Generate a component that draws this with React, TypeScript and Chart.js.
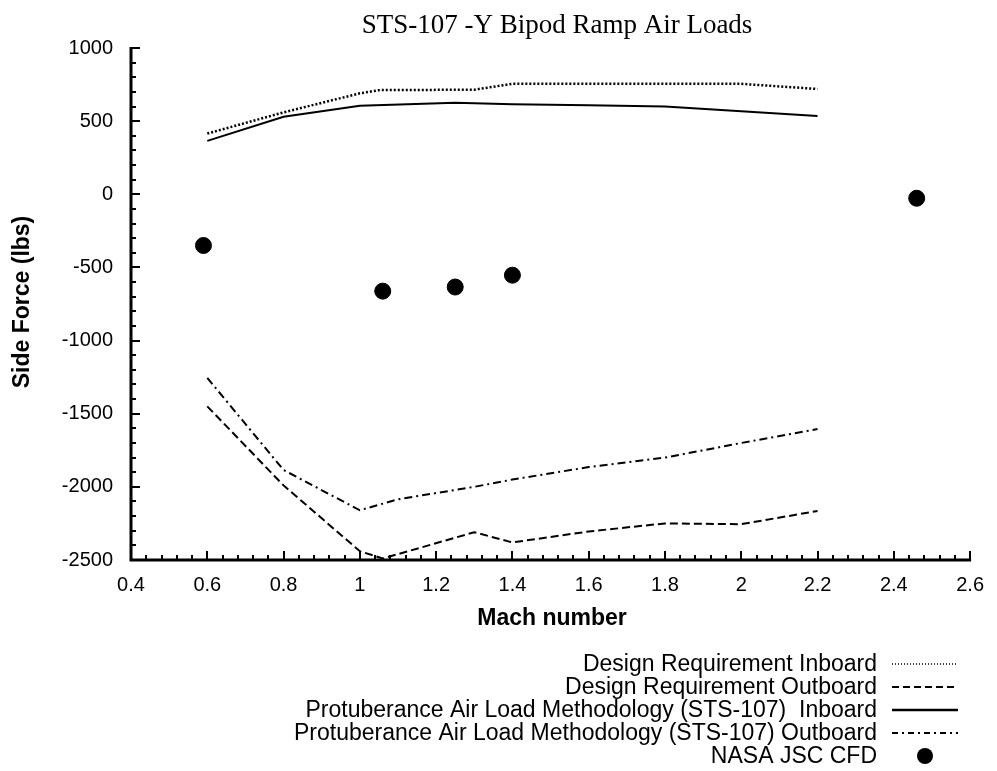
import React, { useEffect, useRef } from "react";
import { Chart, registerables } from "chart.js";
Chart.register(...registerables);

const TITLE = "STS-107 -Y Bipod Ramp Air Loads";
const X_TITLE = "Mach number";
const Y_TITLE = "Side Force (lbs)";

const X_MIN = 0.4;
const X_MAX = 2.6;
const X_STEP = 0.2;
const Y_MIN = -2500;
const Y_MAX = 1000;
const Y_STEP = 500;

const designInboardMach = [0.6, 0.8, 1.0, 1.05, 1.3, 1.4, 1.6, 1.8, 2.0, 2.2];
const designInboardForce = [415, 560, 690, 712, 715, 755, 755, 755, 755, 720];

const designOutboardMach = [0.6, 0.8, 1.0, 1.06, 1.3, 1.4, 1.6, 1.8, 2.0, 2.2];
const designOutboardForce = [-1450, -1990, -2440, -2490, -2310, -2380, -2305, -2250, -2255, -2165];

const protInboardMach = [0.6, 0.8, 1.0, 1.25, 1.4, 1.6, 1.8, 2.0, 2.2];
const protInboardForce = [365, 530, 605, 625, 615, 608, 600, 568, 535];

const protOutboardMach = [0.6, 0.8, 1.0, 1.1, 1.3, 1.4, 1.6, 1.8, 2.0, 2.2];
const protOutboardForce = [-1255, -1885, -2160, -2085, -2000, -1950, -1865, -1800, -1700, -1605];

const cfdMach = [0.59, 1.06, 1.25, 1.4, 2.46];
const cfdForce = [-350, -662, -634, -553, -27];

const LEGEND_LABELS = [
  "Design Requirement Inboard",
  "Design Requirement Outboard",
  "Protuberance Air Load Methodology (STS-107)  Inboard",
  "Protuberance Air Load Methodology (STS-107) Outboard",
  "NASA JSC CFD",
];

const pts = (xs: number[], ys: number[]) => xs.map((x, i) => ({ x, y: ys[i] }));

const SANS = "'Liberation Sans', Arial, sans-serif";
const SERIF = "'Liberation Serif', 'Times New Roman', serif";

const decorPlugin = {
  id: "decor",
  afterDraw(chart: any) {
    const { ctx, chartArea, scales } = chart;
    const xs = scales.x;
    const ys = scales.y;
    const left = chartArea.left;
    const bottom = chartArea.bottom;
    ctx.save();
    ctx.strokeStyle = "#000";
    ctx.fillStyle = "#000";
    ctx.setLineDash([]);
    // axis lines
    ctx.lineWidth = 3;
    ctx.beginPath();
    ctx.moveTo(left, ys.getPixelForValue(Y_MAX) - 1);
    ctx.lineTo(left, bottom);
    ctx.lineTo(xs.getPixelForValue(X_MAX) + 1, bottom);
    ctx.stroke();
    // ticks
    ctx.lineWidth = 2;
    ctx.beginPath();
    for (let i = 0; i <= Math.round((X_MAX - X_MIN) / 0.04); i++) {
      const v = X_MIN + i * 0.04;
      const px = Math.round(xs.getPixelForValue(v));
      const major = i % 5 === 0;
      ctx.moveTo(px, bottom);
      ctx.lineTo(px, bottom - (major ? 9 : 5));
    }
    for (let i = 0; i <= Math.round((Y_MAX - Y_MIN) / 100); i++) {
      const v = Y_MIN + i * 100;
      const py = Math.round(ys.getPixelForValue(v));
      const major = i % 5 === 0;
      ctx.moveTo(left, py);
      ctx.lineTo(left + (major ? 9 : 5), py);
    }
    ctx.stroke();

    // title
    ctx.font = `27px ${SERIF}`;
    ctx.textAlign = "center";
    ctx.textBaseline = "alphabetic";
    ctx.fillText(TITLE, 557, 33);

    // axis titles
    ctx.font = `bold 23px ${SANS}`;
    ctx.textBaseline = "middle";
    ctx.fillText(X_TITLE, 552, 619);
    ctx.save();
    ctx.translate(23, 302);
    ctx.rotate(-Math.PI / 2);
    ctx.fillText(Y_TITLE, 0, 0);
    ctx.restore();

    // legend
    ctx.font = `23px ${SANS}`;
    ctx.textAlign = "right";
    const rows = [664, 687, 710, 733, 756];
    const sx0 = 892;
    const sx1 = 958;
    chart.data.datasets.forEach((ds: any, i: number) => {
      const y = rows[i];
      ctx.fillStyle = "#000";
      ctx.fillText(ds.label, 877, y + 1);
      if (ds.showLine === false) {
        ctx.beginPath();
        ctx.arc(925, y, 8, 0, Math.PI * 2);
        ctx.fill();
      } else {
        ctx.beginPath();
        ctx.lineWidth = ds.legendWidth;
        ctx.setLineDash(ds.legendDash);
        ctx.moveTo(sx0, y);
        ctx.lineTo(sx1, y);
        ctx.stroke();
        ctx.setLineDash([]);
      }
    });
    ctx.restore();
  },
};

export default function App() {
  const ref = useRef<HTMLCanvasElement | null>(null);
  useEffect(() => {
    if (!ref.current) return;
    const lineBase = {
      borderColor: "#000",
      backgroundColor: "#000",
      borderWidth: 2,
      pointRadius: 0,
      fill: false,
      tension: 0,
      borderCapStyle: "butt",
    };
    const chart = new Chart(ref.current, {
      type: "scatter",
      data: {
        datasets: [
          {
            ...lineBase,
            label: LEGEND_LABELS[0],
            data: pts(designInboardMach, designInboardForce),
            showLine: true,
            borderDash: [2, 2],
            borderWidth: 2.5,
            legendDash: [1, 2],
            legendWidth: 1.5,
          } as any,
          {
            ...lineBase,
            label: LEGEND_LABELS[1],
            data: pts(designOutboardMach, designOutboardForce),
            showLine: true,
            borderDash: [8, 4],
            legendDash: [7, 4],
            legendWidth: 2,
          } as any,
          {
            ...lineBase,
            label: LEGEND_LABELS[2],
            data: pts(protInboardMach, protInboardForce),
            showLine: true,
            borderDash: [],
            legendDash: [],
            legendWidth: 2.5,
          } as any,
          {
            ...lineBase,
            label: LEGEND_LABELS[3],
            data: pts(protOutboardMach, protOutboardForce),
            showLine: true,
            borderDash: [8, 4, 2, 4],
            legendDash: [6, 4, 2, 4],
            legendWidth: 2,
          } as any,
          {
            label: LEGEND_LABELS[4],
            data: pts(cfdMach, cfdForce),
            showLine: false,
            pointRadius: 8,
            pointHoverRadius: 8,
            pointBackgroundColor: "#000",
            pointBorderColor: "#000",
            borderColor: "#000",
            backgroundColor: "#000",
          } as any,
        ],
      },
      options: {
        animation: false,
        responsive: false,
        maintainAspectRatio: false,
        layout: { padding: { top: 48, right: 22, left: 0, bottom: 0 } },
        plugins: {
          legend: { display: false },
          title: { display: false },
          tooltip: { enabled: false },
        },
        scales: {
          x: {
            type: "linear",
            min: X_MIN,
            max: X_MAX,
            grid: { display: false, drawTicks: false },
            border: { display: false },
            ticks: {
              stepSize: X_STEP,
              padding: 13,
              color: "#000",
              font: { family: SANS, size: 20 },
              maxRotation: 0,
              autoSkip: false,
              callback: (v: any) => String(Math.round(Number(v) * 10) / 10),
            },
            afterFit: (s: any) => {
              s.height = 771 - 560;
            },
          },
          y: {
            type: "linear",
            min: Y_MIN,
            max: Y_MAX,
            grid: { display: false, drawTicks: false },
            border: { display: false },
            ticks: {
              stepSize: Y_STEP,
              padding: 18,
              color: "#000",
              font: { family: SANS, size: 20 },
              autoSkip: false,
              callback: (v: any) => String(Math.round(Number(v))),
            },
            afterFit: (s: any) => {
              s.width = 131;
            },
          },
        },
      } as any,
      plugins: [decorPlugin],
    });
    return () => chart.destroy();
  }, []);
  return (
    <div style={{ position: "fixed", left: 0, top: 0, width: 997, height: 771, background: "#fff" }}>
      <canvas ref={ref} width={997} height={771} style={{ display: "block", width: 997, height: 771 }} />
    </div>
  );
}
